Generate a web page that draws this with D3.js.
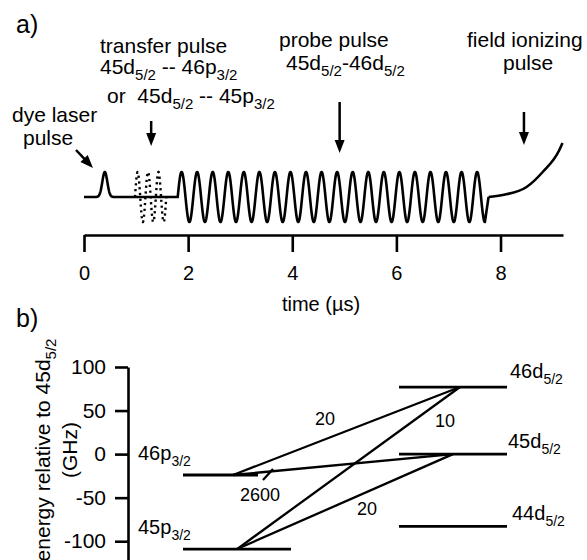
<!DOCTYPE html>
<html>
<head>
<meta charset="utf-8">
<script src="https://cdn.jsdelivr.net/npm/d3@7"></script>
<style>
  body { margin: 0; background: #fff; }
  text { font-family: "Liberation Sans", Arial, sans-serif; fill: #000; white-space: pre; }
</style>
</head>
<body>
<div id="chart"></div>
<script>
// a) pulse sequence, times in microseconds
var pulseNames = ['dye', 'transfer', 'probe'];
var pulseStart = [0.28, 0.98, 1.80];
var pulseEnd = [0.52, 1.58, 7.70];
var pulseCycles = [0, 3, 19.75];
var timeTicks = [0, 2, 4, 6, 8];

// field ionizing ramp (time, amplitude)
var rampTime = [7.77, 8.04, 8.50, 8.81, 9.13, 9.19];
var rampAmp = [0, 0.08, 0.4, 1.0, 1.88, 2.16];

// b) energy levels (GHz relative to 45d5/2)
var levelNames = ['46p_{3/2}', '45p_{3/2}', '46d_{5/2}', '45d_{5/2}', '44d_{5/2}'];
var levelEnergy = [-24, -109, 77, 0, -83];
var energyTicks = [100, 50, 0, -50, -100];
var transFrom = [0, 0, 1, 1];
var transTo = [2, 3, 2, 3];
var transLabel = ['20', '2600', '10', '20'];

var width = 587;
var height = 560;

var svg = d3.select('#chart')
            .append('svg')
            .attr('width', width)
            .attr('height', height);

// write "45d_{5/2}" style strings with real subscripts
function rich(sel, str, subSize, shift) {
  var parts = str.split(/_\{([^}]*)\}/);
  var down = 0;
  parts.forEach(function(p, i) {
    if (p === '') return;
    var t = sel.append('tspan').text(p);
    if (i % 2 === 1) {
      t.attr('font-size', subSize).attr('dy', shift - down);
      down = shift;
    } else if (down) {
      t.attr('dy', -down);
      down = 0;
    }
  });
  return sel;
}

function label(x, y, str, size, anchor) {
  var t = svg.append('text')
             .attr('x', x)
             .attr('y', y)
             .attr('font-size', size)
             .attr('text-anchor', anchor || 'start');
  return rich(t, str, Math.round(size * 0.7), 6);
}

function arrow(x1, y1, x2, y2) {
  var dx = x2 - x1, dy = y2 - y1;
  var len = Math.sqrt(dx * dx + dy * dy);
  var ux = dx / len, uy = dy / len;
  var hl = 13, hw = 5;
  svg.append('line')
     .attr('x1', x1).attr('y1', y1)
     .attr('x2', x2 - ux * hl * 0.8).attr('y2', y2 - uy * hl * 0.8)
     .attr('stroke', '#000')
     .attr('stroke-width', 2.5);
  var bx = x2 - ux * hl, by = y2 - uy * hl;
  svg.append('path')
     .attr('d', 'M' + x2 + ',' + y2 +
                'L' + (bx - uy * hw) + ',' + (by + ux * hw) +
                'L' + (bx + uy * hw) + ',' + (by - ux * hw) + 'Z')
     .attr('fill', '#000');
}

// ---------- panel a ----------
var x_scale = d3.scaleLinear()
                .domain([0, 9.2])
                .range([84, 563]);

var amp_scale = d3.scaleLinear()
                  .domain([-1, 1])
                  .range([222, 172]);

var line = d3.line()
             .x(function(d) { return x_scale(d[0]); })
             .y(function(d) { return amp_scale(d[1]); });

// baseline with the dye laser pulse, then the probe pulse
var dyeMid = (pulseStart[0] + pulseEnd[0]) / 2;
var dyeSigma = (pulseEnd[0] - pulseStart[0]) / 5;
var solid = [];
d3.range(0, pulseStart[2], 0.005).forEach(function(t) {
  solid.push([t, Math.exp(-(t - dyeMid) * (t - dyeMid) / (2 * dyeSigma * dyeSigma))]);
});
d3.range(pulseStart[2], pulseEnd[2] + 0.0001, 0.004).forEach(function(t) {
  var ph = 2 * Math.PI * pulseCycles[2] * (t - pulseStart[2]) / (pulseEnd[2] - pulseStart[2]);
  solid.push([t, Math.sin(ph)]);
});
solid.push([pulseEnd[2], -1]);
solid.push([rampTime[0], 0]);

svg.append('path')
   .attr('d', line(solid))
   .attr('fill', 'none')
   .attr('stroke', '#000')
   .attr('stroke-width', 2.6)
   .attr('stroke-linejoin', 'round');

// dotted transfer pulse
var dotted = d3.range(pulseStart[1], pulseEnd[1] + 0.0001, 0.003).map(function(t) {
  var ph = 2 * Math.PI * pulseCycles[1] * (t - pulseStart[1]) / (pulseEnd[1] - pulseStart[1]);
  return [t, Math.sin(ph)];
});
svg.append('path')
   .attr('d', line(dotted))
   .attr('fill', 'none')
   .attr('stroke', '#000')
   .attr('stroke-width', 2.4)
   .attr('stroke-dasharray', '2.2,3.6');

// field ionizing ramp
svg.append('path')
   .attr('d', line.curve(d3.curveMonotoneX)(rampTime.map(function(t, i) { return [t, rampAmp[i]]; })))
   .attr('fill', 'none')
   .attr('stroke', '#000')
   .attr('stroke-width', 2.6);
line.curve(d3.curveLinear);

// time axis
var x_axis = svg.append('g')
                .attr('transform', 'translate(0, 235)')
                .call(d3.axisBottom(x_scale)
                        .tickValues(timeTicks)
                        .tickFormat(d3.format('d'))
                        .tickSize(17)
                        .tickSizeOuter(0)
                        .tickPadding(14));
x_axis.select('.domain').attr('stroke-width', 2.6);
x_axis.selectAll('.tick line').attr('stroke-width', 2.6);
x_axis.selectAll('.tick text')
      .attr('font-size', 20)
      .attr('font-family', '"Liberation Sans", Arial, sans-serif');

label(321, 311, 'time (\u00b5s)', 20, 'middle');

// annotations
label(16, 33, 'a)', 25);
label(100, 53, 'transfer pulse', 21);
label(100, 74, '45d_{5/2} -- 46p_{3/2}', 21);
label(107, 103, 'or  45d_{5/2} -- 45p_{3/2}', 21);
label(12, 122, 'dye laser', 21);
label(23, 145, 'pulse', 21);
label(279, 47, 'probe pulse', 21);
label(286, 70, '45d_{5/2}-46d_{5/2}', 21);
label(467, 47, 'field ionizing', 21);
label(503, 70, 'pulse', 21);

arrow(76, 150, 93, 168);
arrow(x_scale(1.29), 121, x_scale(1.29), 146);
arrow(x_scale(4.91), 102, x_scale(4.91), 153);
arrow(x_scale(8.45), 112, x_scale(8.45), 145);

// ---------- panel b ----------
var y_scale = d3.scaleLinear()
                .domain([100, -125])
                .range([367, 563]);

var y_axis = svg.append('g')
                .attr('transform', 'translate(128, 0)')
                .call(d3.axisLeft(y_scale)
                        .tickValues(energyTicks)
                        .tickFormat(function(d) { return String(d); })
                        .tickSize(13)
                        .tickSizeOuter(0)
                        .tickPadding(9));
y_axis.select('.domain').attr('stroke-width', 2.6);
y_axis.selectAll('.tick line').attr('stroke-width', 2.6);
y_axis.selectAll('.tick text')
      .attr('font-size', 21)
      .attr('font-family', '"Liberation Sans", Arial, sans-serif');

label(16, 327, 'b)', 25);

rich(svg.append('text')
        .attr('transform', 'translate(50, 450) rotate(-90)')
        .attr('font-size', 21)
        .attr('text-anchor', 'middle'),
     'energy relative to 45d_{5/2}', 15, 6);
svg.append('text')
   .attr('transform', 'translate(77, 450) rotate(-90)')
   .attr('font-size', 21)
   .attr('text-anchor', 'middle')
   .text('(GHz)');

// layout of the schematic level diagram (pixels)
var levelX0 = [183, 183, 399, 399, 399];
var levelX1 = [258, 291, 507, 507, 507];
var levelLabelX = [138, 138, 510, 508, 512];
var levelLabelDy = [-15, -15, -9, -6, -6];
var transX0 = [233, 233, 237, 237];
var transX1 = [460, 453, 460, 453];
var transLabelX = [325, 260, 445, 367];
var transLabelY = [425, 501, 427, 515];

svg.selectAll('line.level')
   .data(levelEnergy)
   .enter()
   .append('line')
   .attr('class', 'level')
   .attr('x1', function(d, i) { return levelX0[i]; })
   .attr('x2', function(d, i) { return levelX1[i]; })
   .attr('y1', function(d) { return y_scale(d); })
   .attr('y2', function(d) { return y_scale(d); })
   .attr('stroke', '#000')
   .attr('stroke-width', 2.8);

levelNames.forEach(function(name, i) {
  label(levelLabelX[i], y_scale(levelEnergy[i]) + levelLabelDy[i], name, 20);
});

svg.selectAll('line.trans')
   .data(transFrom)
   .enter()
   .append('line')
   .attr('class', 'trans')
   .attr('x1', function(d, i) { return transX0[i]; })
   .attr('x2', function(d, i) { return transX1[i]; })
   .attr('y1', function(d) { return y_scale(levelEnergy[d]); })
   .attr('y2', function(d, i) { return y_scale(levelEnergy[transTo[i]]); })
   .attr('stroke', '#000')
   .attr('stroke-width', 2.3);

transLabel.forEach(function(s, i) {
  label(transLabelX[i], transLabelY[i], s, 18, 'middle');
});

// pointer from "2600" to its transition
svg.append('line')
   .attr('x1', 263).attr('y1', 480)
   .attr('x2', 273).attr('y2', 469)
   .attr('stroke', '#000')
   .attr('stroke-width', 2.3);
</script>
</body>
</html>
